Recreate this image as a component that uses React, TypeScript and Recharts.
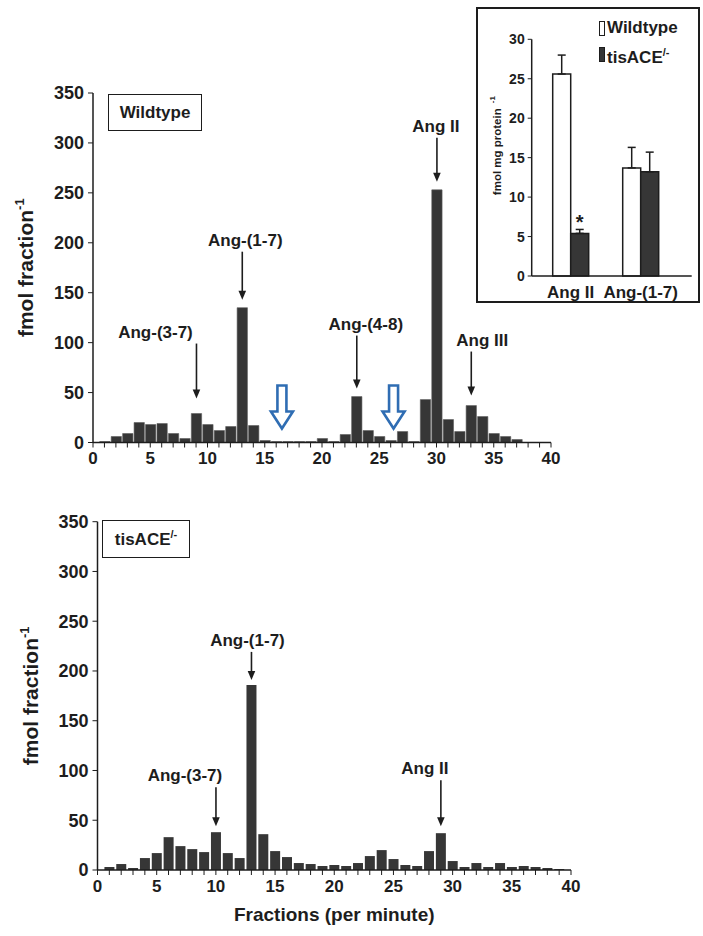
import React from "react";
import {
  Bar,
  BarChart,
  ErrorBar,
  LabelList,
  Legend,
  ReferenceDot,
  XAxis,
  YAxis,
} from "recharts";

const FONT = '"Liberation Sans", Arial, Helvetica, sans-serif';
const INK = "#1d1d1d";
const BAR_DARK = "#363636";
const ARROW_BLUE = "#2f6db3";

// one fraction collected per minute
const FRACTIONS = [
  0, 1, 2, 3, 4, 5, 6, 7, 8, 9, 10, 11, 12, 13, 14, 15, 16, 17, 18, 19, 20,
  21, 22, 23, 24, 25, 26, 27, 28, 29, 30, 31, 32, 33, 34, 35, 36, 37, 38, 39, 40,
];
const FMOL_TICKS = [0, 50, 100, 150, 200, 250, 300, 350];

const WILDTYPE_FMOL = [
  0, 1, 6, 9, 20, 18, 19, 9, 4, 29,
  18, 12, 16, 135, 17, 2, 1, 1, 1, 1,
  4, 1, 8, 46, 12, 6, 2, 11, 1, 43,
  253, 23, 11, 37, 26, 9, 6, 3, 0, 0,
  0,
];

const TISACE_FMOL = [
  0, 3, 6, 2, 12, 17, 33, 24, 21, 18,
  38, 17, 12, 186, 36, 19, 13, 7, 6, 4,
  5, 4, 7, 14, 20, 11, 5, 4, 19, 37,
  9, 3, 7, 3, 7, 3, 4, 3, 2, 1,
  0,
];

const WILDTYPE_PEAKS = [
  { fraction: 9, name: "Ang-(3-7)" },
  { fraction: 13, name: "Ang-(1-7)" },
  { fraction: 23, name: "Ang-(4-8)" },
  { fraction: 30, name: "Ang II" },
  { fraction: 33, name: "Ang III" },
];

const TISACE_PEAKS = [
  { fraction: 10, name: "Ang-(3-7)" },
  { fraction: 13, name: "Ang-(1-7)" },
  { fraction: 29, name: "Ang II" },
];

// open blue arrows: elution positions with nothing detected
const WILDTYPE_EMPTY = [16.5, 26.25];

// inset: tissue content
const INSET_PEPTIDES = ["Ang II", "Ang-(1-7)"];
const INSET_WILDTYPE = [25.6, 13.7];
const INSET_WILDTYPE_SEM = [2.4, 2.6];
const INSET_TISACE = [5.4, 13.2];
const INSET_TISACE_SEM = [0.5, 2.5];
const INSET_SIGNIF = ["*", ""];
const INSET_TICKS = [0, 5, 10, 15, 20, 25, 30];

// callout geometry (px): gap above bar, arrow length, text shift
const WT_CALLOUT: Record<string, { gap: number; len: number; dx: number }> = {
  "Ang-(3-7)": { gap: 15, len: 55, dx: -41 },
  "Ang-(1-7)": { gap: 8, len: 48, dx: 3 },
  "Ang-(4-8)": { gap: 8, len: 53, dx: 9 },
  "Ang II": { gap: 8, len: 44, dx: -1 },
  "Ang III": { gap: 10, len: 44, dx: 11 },
};
const KO_CALLOUT: Record<string, { gap: number; len: number; dx: number }> = {
  "Ang-(3-7)": { gap: 6, len: 39, dx: -31 },
  "Ang-(1-7)": { gap: 5, len: 28, dx: -4 },
  "Ang II": { gap: 7, len: 46, dx: -16 },
};

function buildRows(values: number[], peaks: { fraction: number; name: string }[]) {
  return FRACTIONS.map((fraction, i) => ({
    fraction,
    fmol: values[i],
    peak: peaks.find((p) => p.fraction === fraction)?.name,
  }));
}

const wildtypeRows = buildRows(WILDTYPE_FMOL, WILDTYPE_PEAKS);
const tisaceRows = buildRows(TISACE_FMOL, TISACE_PEAKS);

const insetRows = INSET_PEPTIDES.map((peptide, i) => ({
  peptide,
  wildtype: INSET_WILDTYPE[i],
  wildtypeErr: [0, INSET_WILDTYPE_SEM[i]],
  tisace: INSET_TISACE[i],
  tisaceErr: [0, INSET_TISACE_SEM[i]],
  signif: INSET_SIGNIF[i],
}));

const fractionTick = (v: number) => (v % 5 === 0 ? String(v) : "");

function makeCallout(layout: Record<string, { gap: number; len: number; dx: number }>) {
  return function CalloutLabel(props: any) {
    const name = props.value;
    if (!name || !layout[name]) return null;
    const vb = props.viewBox ?? props;
    const cx = Number(vb.x) + Number(vb.width) / 2;
    const top = Number(vb.y);
    const { gap, len, dx } = layout[name];
    const tip = top - gap;
    const start = tip - len;
    return (
      <g>
        <line x1={cx} y1={start} x2={cx} y2={tip - 7} stroke={INK} strokeWidth={1.6} />
        <path d={`M${cx - 3.8},${tip - 9} L${cx + 3.8},${tip - 9} L${cx},${tip} Z`} fill={INK} />
        <text
          x={cx + dx}
          y={start - 6}
          textAnchor="middle"
          fontSize={17}
          fontWeight={700}
          fill={INK}
        >
          {name}
        </text>
      </g>
    );
  };
}

function HollowArrow(props: any) {
  const { cx, cy } = props;
  const d = [
    `M${cx - 4.5},${cy - 43}`,
    `L${cx + 4.5},${cy - 43}`,
    `L${cx + 4.5},${cy - 17}`,
    `L${cx + 11},${cy - 17}`,
    `L${cx},${cy}`,
    `L${cx - 11},${cy - 17}`,
    `L${cx - 4.5},${cy - 17}`,
    "Z",
  ].join(" ");
  return <path d={d} fill="#fff" stroke={ARROW_BLUE} strokeWidth={2.6} strokeLinejoin="miter" />;
}

function fmolTitle(baselineX: number) {
  return function FmolTitle(props: any) {
    const vb = props.viewBox;
    const cy = vb.y + vb.height / 2;
    return (
      <text
        x={baselineX}
        y={cy}
        transform={`rotate(-90 ${baselineX} ${cy})`}
        textAnchor="middle"
        fontSize={21}
        fontWeight={700}
        fill={INK}
      >
        fmol fraction
        <tspan dy={-9} fontSize={13}>
          -1
        </tspan>
      </text>
    );
  };
}

function FractionsTitle(props: any) {
  const vb = props.viewBox;
  return (
    <text
      x={vb.x + vb.width / 2}
      y={vb.y + 51}
      textAnchor="middle"
      fontSize={19}
      fontWeight={700}
      fill={INK}
    >
      Fractions (per minute)
    </text>
  );
}

function InsetTitle(props: any) {
  const vb = props.viewBox;
  const x = vb.x + 9.5;
  const cy = vb.y + vb.height / 2 - 12;
  return (
    <text
      x={x}
      y={cy}
      transform={`rotate(-90 ${x} ${cy})`}
      textAnchor="middle"
      fontSize={11.5}
      fontWeight={700}
      fill={INK}
    >
      fmol mg  protein
      <tspan dx={5} dy={-6} fontSize={8}>
        -1
      </tspan>
    </text>
  );
}

function SignifLabel(props: any) {
  if (!props.value) return null;
  const vb = props.viewBox ?? props;
  const cx = Number(vb.x) + Number(vb.width) / 2;
  return (
    <text x={cx} y={Number(vb.y) - 4} textAnchor="middle" fontSize={20} fontWeight={700} fill={INK}>
      {props.value}
    </text>
  );
}

function InsetLegend(props: any) {
  const items = props.payload ?? [];
  return (
    <div style={{ fontSize: 17, fontWeight: 700, lineHeight: "24px", color: INK, fontFamily: FONT }}>
      {items.map((item: any) => {
        const fill = item.payload?.fill ?? item.color;
        return (
          <div key={item.value} style={{ display: "flex", alignItems: "center", whiteSpace: "nowrap" }}>
            <span
              style={{
                display: "inline-block",
                width: 4,
                height: 13,
                border: `1.5px solid ${INK}`,
                background: fill,
                marginRight: 2,
              }}
            />
            <span>
              {item.value}
              {item.value === "tisACE" ? <sup style={{ fontSize: 11 }}>/-</sup> : null}
            </span>
          </div>
        );
      })}
    </div>
  );
}

const axisTick = { fontSize: 18, fontWeight: 700, fill: INK };
const fractionAxisTick = { fontSize: 17, fontWeight: 700, fill: INK };

export default function App() {
  return (
    <div
      style={{
        position: "absolute",
        left: 0,
        top: 0,
        width: 703,
        height: 936,
        background: "#fff",
        overflow: "hidden",
        fontFamily: FONT,
      }}
    >
      {/* wildtype chromatogram */}
      <div style={{ position: "absolute", left: 0, top: 0 }}>
        <BarChart
          width={703}
          height={480}
          data={wildtypeRows}
          margin={{ top: 93, right: 152, bottom: 7.5, left: 13 }}
        >
          <XAxis
            dataKey="fraction"
            type="number"
            domain={[0, 40]}
            ticks={FRACTIONS}
            interval={0}
            tickFormatter={fractionTick}
            tickSize={5}
            tickMargin={4}
            height={30}
            tick={fractionAxisTick}
            stroke={INK}
            axisLine={{ stroke: INK, strokeWidth: 1.5 }}
          />
          <YAxis
            domain={[0, 350]}
            ticks={FMOL_TICKS}
            interval={0}
            width={80}
            tickSize={5}
            tickMargin={4}
            tick={axisTick}
            stroke={INK}
            axisLine={{ stroke: INK, strokeWidth: 1.5 }}
            label={fmolTitle(33)}
          />
          <Bar
            dataKey="fmol"
            fill={BAR_DARK}
            stroke="#5c5c5c"
            strokeWidth={0.6}
            barSize={11.45}
            isAnimationActive={false}
          >
            <LabelList dataKey="peak" content={makeCallout(WT_CALLOUT)} />
          </Bar>
          {WILDTYPE_EMPTY.map((f) => (
            <ReferenceDot
              key={f}
              x={f}
              y={14}
              r={0}
              ifOverflow="visible"
              shape={(p: any) => <HollowArrow cx={p.cx} cy={p.cy} />}
            />
          ))}
        </BarChart>
      </div>

      <div
        style={{
          position: "absolute",
          left: 108,
          top: 94,
          width: 94,
          height: 37,
          boxSizing: "border-box",
          border: `1.5px solid ${INK}`,
          display: "flex",
          alignItems: "center",
          justifyContent: "center",
          fontSize: 17,
          fontWeight: 700,
          color: INK,
          background: "#fff",
        }}
      >
        Wildtype
      </div>

      {/* tisACE-/- chromatogram */}
      <div style={{ position: "absolute", left: 0, top: 480 }}>
        <BarChart
          width={703}
          height={456}
          data={tisaceRows}
          margin={{ top: 41.7, right: 132, bottom: 6, left: 17.5 }}
        >
          <XAxis
            dataKey="fraction"
            type="number"
            domain={[0, 40]}
            ticks={FRACTIONS}
            interval={0}
            tickFormatter={fractionTick}
            tickSize={5}
            tickMargin={5}
            height={60}
            tick={fractionAxisTick}
            stroke={INK}
            axisLine={{ stroke: INK, strokeWidth: 1.5 }}
            label={FractionsTitle}
          />
          <YAxis
            domain={[0, 350]}
            ticks={FMOL_TICKS}
            interval={0}
            width={80}
            tickSize={5}
            tickMargin={4}
            tick={axisTick}
            stroke={INK}
            axisLine={{ stroke: INK, strokeWidth: 1.5 }}
            label={fmolTitle(38)}
          />
          <Bar dataKey="fmol" fill={BAR_DARK} barSize={10} isAnimationActive={false}>
            <LabelList dataKey="peak" content={makeCallout(KO_CALLOUT)} />
          </Bar>
        </BarChart>
      </div>

      <div
        style={{
          position: "absolute",
          left: 102,
          top: 520,
          width: 88,
          height: 38,
          boxSizing: "border-box",
          border: `1.5px solid ${INK}`,
          display: "flex",
          alignItems: "center",
          justifyContent: "center",
          fontSize: 17,
          fontWeight: 700,
          color: INK,
          background: "#fff",
        }}
      >
        <span>
          tisACE<sup style={{ fontSize: 11 }}>/-</sup>
        </span>
      </div>

      {/* inset: tissue levels */}
      <div
        style={{
          position: "absolute",
          left: 476,
          top: 7,
          width: 224,
          height: 296,
          boxSizing: "border-box",
          border: `2px solid ${INK}`,
          background: "#fff",
        }}
      >
        <BarChart
          width={220}
          height={292}
          data={insetRows}
          margin={{ top: 30.3, right: 6.3, bottom: 5, left: 13.7 }}
          barGap={0}
          barCategoryGap="24%"
        >
          <XAxis
            dataKey="peptide"
            padding={{ left: 4, right: 16 }}
            tickLine={false}
            tickSize={0}
            tickMargin={10}
            height={20}
            interval={0}
            tick={{ fontSize: 17, fontWeight: 700, fill: INK }}
            axisLine={{ stroke: INK, strokeWidth: 1.5 }}
          />
          <YAxis
            domain={[0, 30]}
            ticks={INSET_TICKS}
            interval={0}
            width={40}
            tickSize={4}
            tickMargin={3}
            tick={{ fontSize: 14, fontWeight: 700, fill: INK }}
            stroke={INK}
            axisLine={{ stroke: INK, strokeWidth: 1.5 }}
            label={InsetTitle}
          />
          <Legend
            layout="vertical"
            align="center"
            verticalAlign="middle"
            wrapperStyle={{ top: 7, left: 121, width: 100 }}
            content={InsetLegend}
          />
          <Bar
            dataKey="wildtype"
            name="Wildtype"
            fill="#ffffff"
            stroke={INK}
            strokeWidth={1.5}
            barSize={18}
            isAnimationActive={false}
          >
            <ErrorBar dataKey="wildtypeErr" width={4} stroke={INK} strokeWidth={1.5} direction="y" />
          </Bar>
          <Bar
            dataKey="tisace"
            name="tisACE"
            fill={BAR_DARK}
            stroke={INK}
            strokeWidth={1.5}
            barSize={18}
            isAnimationActive={false}
          >
            <ErrorBar dataKey="tisaceErr" width={4} stroke={INK} strokeWidth={1.5} direction="y" />
            <LabelList dataKey="signif" content={SignifLabel} />
          </Bar>
        </BarChart>
      </div>
    </div>
  );
}
